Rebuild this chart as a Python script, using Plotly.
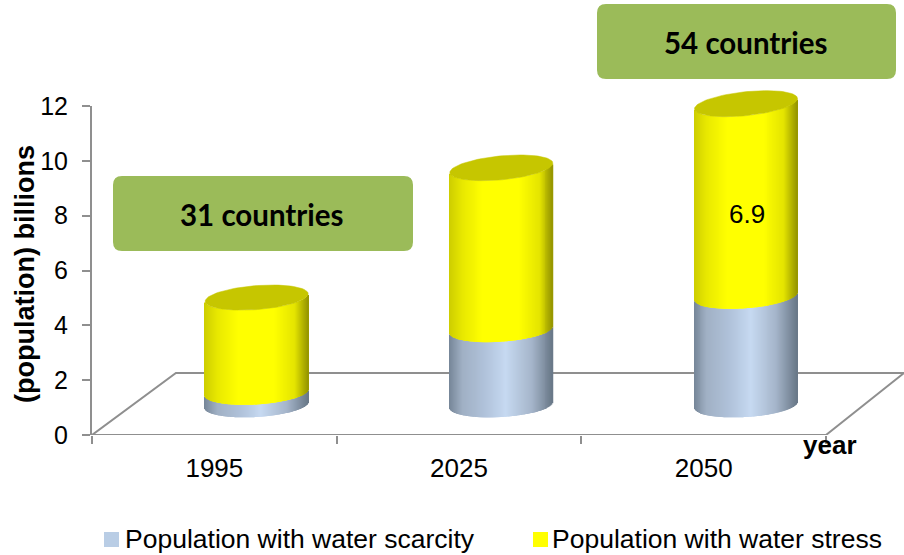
import numpy as np
import plotly.graph_objects as go

# Source figures, billions of people
years = ["1995", "2025", "2050"]
scarcity = [0.45, 2.7, 3.9]
stress = [3.4, 5.8, 6.9]
y_ticks = [0, 2, 4, 6, 8, 10, 12]
callouts = ["31 countries", "54 countries"]
series_names = ["Population with water scarcity", "Population with water stress"]

W, H = 904, 555
AX_L, AX_T, AX_B = 92, 106, 435
CYL_T = 60                    # cylinder subplot reaches above the value axis so the lids fit
PX_PER_CAT = 244.67
PX_PER_UNIT = 27.9            # vertical scale on the front plane of the cylinders
BASE_PX = 405                 # centre of the cylinder bottoms
DEPTH_SHIFT = 0.173           # cylinders stand behind the axis, shifted sideways
RADIUS = 51.5 / PX_PER_CAT
MINOR_B = 12 / PX_PER_UNIT
GREY = "#8f8f8f"
BODY_FONT = "Liberation Sans"


def px(x):
    return x / W


def py(y):
    return 1 - y / H


def skew(level):
    return (3 + 0.2 * level) / PX_PER_UNIT


def shade(u, stops):
    xs = [s[0] for s in stops]
    rgb = [np.interp(u, xs, [s[1][i] for s in stops]) for i in range(3)]
    return "rgb({:.0f},{:.0f},{:.0f})".format(*rgb)


YELLOW = [(-1, (205, 205, 0)), (-0.75, (232, 232, 0)), (-0.35, (255, 255, 0)), (0.35, (255, 255, 0)),
          (0.75, (228, 228, 0)), (1, (150, 150, 0))]
BLUE = [(-1, (118, 134, 152)), (-0.75, (160, 176, 196)), (-0.3, (176, 194, 218)), (0.1, (198, 217, 241)),
        (0.6, (165, 181, 202)), (1, (105, 120, 136))]


def front_arc(us, centre_level):
    return centre_level + skew(centre_level) * us - MINOR_B * np.sqrt(1 - us ** 2)


x_range = [-0.5, -0.5 + (W - AX_L) / PX_PER_CAT]
y_units = AX_B - AX_T
y2_low = -(AX_B - BASE_PX) / PX_PER_UNIT
y2_high = y2_low + (AX_B - CYL_T) / PX_PER_UNIT

fig = go.Figure()

# Floor of the 3-D plot, on the main axis so it stays behind the cylinders
back = (AX_B - 373) / (y_units / 12)
fig.add_trace(go.Scatter(
    x=[-0.5, -0.157, x_range[1], 2.5, -0.5], y=[0, back, back, 0, 0],
    mode="lines", line=dict(color=GREY, width=2), hoverinfo="skip", showlegend=False,
))

us = np.linspace(-0.995, 0.995, 105)
strip_w = 1.35 / PX_PER_CAT

for values, lows, stops in (
    (scarcity, [0, 0, 0], BLUE),
    (stress, scarcity, YELLOW),
):
    xs, bases, heights, colors = [], [], [], []
    for i in range(3):
        lower = front_arc(us, lows[i])
        upper = front_arc(us, lows[i] + values[i])
        xs.extend(i + DEPTH_SHIFT + us * RADIUS)
        bases.extend(lower)
        heights.extend(upper - lower)
        colors.extend(shade(u, stops) for u in us)
    fig.add_trace(go.Bar(
        x=xs, y=heights, base=bases, width=strip_w, yaxis="y2",
        marker=dict(color=colors, line=dict(width=0)),
        hoverinfo="skip", showlegend=False,
    ))

# Cylinder lids
ts = np.linspace(0, 2 * np.pi, 90)
for i in range(3):
    level = scarcity[i] + stress[i]
    fig.add_trace(go.Scatter(
        x=i + DEPTH_SHIFT + RADIUS * np.cos(ts),
        y=level + skew(level) * np.cos(ts) + MINOR_B * np.sin(ts),
        yaxis="y2", mode="lines", fill="toself", fillcolor="#c6c600",
        line=dict(color="#c6c600", width=0.5),
        hoverinfo="skip", showlegend=False,
    ))


def rounded_box(x0, y0, x1, y1, r=9):
    a, b, c, d = px(x0), px(x1), py(y0), py(y1)
    rx, ry = r / W, r / H
    return (f"M {a + rx} {c} L {b - rx} {c} Q {b} {c} {b} {c - ry} L {b} {d + ry} Q {b} {d} {b - rx} {d} "
            f"L {a + rx} {d} Q {a} {d} {a} {d + ry} L {a} {c - ry} Q {a} {c} {a + rx} {c} Z")


def note(text, x, y, size, family=BODY_FONT, anchor="center", angle=0):
    return dict(text=text, xref="paper", yref="paper", x=px(x), y=py(y), xanchor=anchor, yanchor="middle",
                textangle=angle, showarrow=False, font=dict(family=family, size=size, color="black"))


boxes = [(113, 176, 413, 251), (597, 4, 896, 79)]
shapes = [dict(type="path", xref="paper", yref="paper", path=rounded_box(*b),
               fillcolor="#9bbb59", line=dict(width=0)) for b in boxes]

# Legend keys
keys = [(104, "#b9cde5"), (533, "#ffff00")]
for x0, colour in keys:
    shapes.append(dict(type="rect", xref="paper", yref="paper", x0=px(x0), x1=px(x0 + 15),
                       y0=py(547), y1=py(532), fillcolor=colour, line=dict(width=0)))

annotations = [note(f"<b>{t}</b>", (b[0] + b[2]) / 2 - 1, (b[1] + b[3]) / 2 + 1, 29.5, family="Lato")
               for t, b in zip(callouts, boxes)]
annotations += [
    dict(text=str(stress[2]), xref="x", yref="y2", x=2 + DEPTH_SHIFT, y=scarcity[2] + stress[2] / 2,
         xshift=1, yshift=-14, showarrow=False, font=dict(family=BODY_FONT, size=26, color="black")),
    note("<b>year</b>", 830, 445, 26),
    note("<b>(population) billions</b>", 25, 274, 27, angle=-90),
    note(series_names[0], 123, 539, 26.5, anchor="left"),
    note(series_names[1], 549.5, 539, 26.5, anchor="left"),
]

fig.update_layout(
    width=W, height=H, autosize=False,
    margin=dict(l=0, r=0, t=0, b=0, autoexpand=False),
    paper_bgcolor="white", plot_bgcolor="rgba(0,0,0,0)",
    barmode="overlay", showlegend=False,
    font=dict(family=BODY_FONT, size=25, color="black"),
    xaxis=dict(
        domain=[px(AX_L), 1], range=x_range, showgrid=False, zeroline=False, showline=False,
        tickmode="array", tickvals=[0, 1, 2], ticktext=years, ticks="", ticklabelstandoff=15,
        tickfont=dict(size=26),
        minor=dict(tickmode="array", tickvals=[-0.5, 0.5, 1.5, 2.5], ticks="outside", ticklen=8,
                   tickcolor=GREY, tickwidth=2, showgrid=False),
    ),
    yaxis=dict(
        domain=[py(AX_B), py(AX_T)], range=[0, 12], tickmode="array", tickvals=y_ticks,
        showgrid=False, zeroline=False, showline=True, linecolor=GREY, linewidth=2,
        ticks="outside", ticklen=8, tickcolor=GREY, tickwidth=2, ticklabelstandoff=9,
    ),
    # Cylinders get their own taller subplot, with the same pixel origin as the value axis
    yaxis2=dict(domain=[py(AX_B), py(CYL_T)], range=[y2_low, y2_high], visible=False, anchor="x"),
    shapes=shapes, annotations=annotations,
)

fig.write_html("out.html")
